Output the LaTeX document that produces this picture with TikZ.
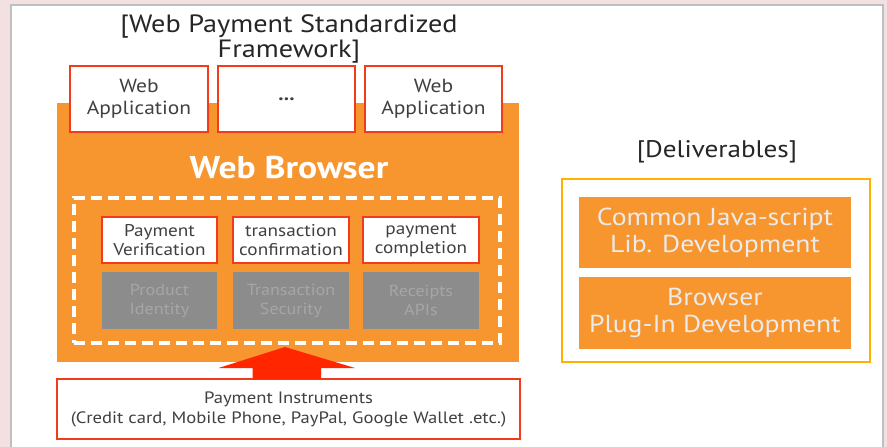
\documentclass[tikz,border=0pt]{standalone}
\usepackage{fontspec}
\setmainfont{PT Sans}[FakeStretch=1.13]
\usetikzlibrary{calc}
\definecolor{bgpink}{HTML}{F3E1E1}
\definecolor{orng}{HTML}{F7952F}
\definecolor{redb}{HTML}{F23A1C}
\definecolor{arrred}{HTML}{FF2600}
\definecolor{yel}{HTML}{FFB000}
\definecolor{grbox}{HTML}{8C8C8C}
\definecolor{grtxt}{HTML}{A6A6A6}
\definecolor{txt}{HTML}{404040}
\tikzset{
  redbox/.style={draw=redb, line width=1.6pt, fill=white, inner sep=0pt, outer sep=0pt, align=center, text=txt},
  graybox/.style={fill=grbox, inner sep=0pt, outer sep=0pt, align=center, text=grtxt},
  orbox/.style={fill=orng, inner sep=0pt, outer sep=0pt, align=center, text=white!92!black},
  heading/.style={align=center, text=black!85, inner sep=0pt}
}
\begin{document}
\begin{tikzpicture}[x=1pt,y=-1pt]
\useasboundingbox (0,0) rectangle (887,447);
\fill[bgpink] (0,0) rectangle (887,447);
\draw[black!25, line width=1.5pt, fill=white] (11,5) rectangle (883,460);

% title
\node[heading, font=\fontsize{25}{23}\selectfont] (title) at (289,39) {[Web Payment Standardized\\Framework]};

% browser
\fill[orng] (57,103) rectangle (519,362);
\node[inner sep=0pt] (browser) at (288,362) {};
\node[text=white, font=\bfseries\fontsize{31.5}{31}\selectfont, inner sep=0pt] (wb) at (289,168) {Web Browser};
\node[draw=white, dash pattern=on 11pt off 6pt, line width=3.5pt, minimum width=426, minimum height=145, inner sep=0pt] (dash) at (287,270.5) {};

% web applications
\node[redbox, minimum width=138, minimum height=66, font=\fontsize{19}{22}\selectfont] (wa1) at (139,99) {Web\\Application};
\node[redbox, minimum width=137, minimum height=66, font=\bfseries\fontsize{19}{22}\selectfont] (wa2) at (286.5,99) {...};
\node[redbox, minimum width=137, minimum height=66, font=\fontsize{19}{22}\selectfont] (wa3) at (433.5,99) {Web\\Application};

% red boxes
\node[redbox, minimum width=115, minimum height=46, font=\fontsize{17}{19}\selectfont] (pv) at (159.5,240) {Payment\\Verification};
\node[redbox, minimum width=116, minimum height=46, font=\fontsize{17}{19}\selectfont] (tc) at (291,240) {transaction\\confirmation};
\node[redbox, minimum width=116, minimum height=46, font=\fontsize{17}{19}\selectfont] (pc) at (421,240) {payment\\completion};

% gray boxes
\node[graybox, minimum width=115, minimum height=57, font=\fontsize{16}{19}\selectfont] (pi1) at (159.5,300.5) {Product\\Identity};
\node[graybox, minimum width=116, minimum height=57, font=\fontsize{16}{19}\selectfont] (ts) at (291,300.5) {Transaction\\Security};
\node[graybox, minimum width=116, minimum height=57, font=\fontsize{16}{19}\selectfont] (ra) at (421,300.5) {Receipts\\APIs};

% payment instruments
\node[redbox, minimum width=463, minimum height=60, font=\fontsize{16.5}{20}\selectfont] (pins) at (288.5,409) {Payment Instruments\\(Credit card, Mobile Phone, PayPal, Google Wallet .etc.)};

% arrow
\fill[arrred] ($(pins.north)+(-36,0)$) -- ++(0,-11) -- ++(-34,0) -- ($(pins.north)+(-3.5,-32)$) -- ($(pins.north)+(66.5,-11)$) -- ++(-34,0) -- ++(0,11) -- cycle;

% deliverables
\node[heading, font=\fontsize{24}{24}\selectfont] (deltitle) at (717,152) {[Deliverables]};
\node[draw=yel, line width=1.6pt, minimum width=308, minimum height=183, inner sep=0pt] (delbox) at (716,270.5) {};
\node[orbox, minimum width=272, minimum height=71, font=\fontsize{24.5}{27}\selectfont] (d1) at (715,232.5) {Common Java-script\\Lib. Development};
\node[orbox, minimum width=272, minimum height=72, font=\fontsize{24.5}{27}\selectfont] (d2) at (715,313) {Browser\\Plug-In Development};
\end{tikzpicture}
\end{document}
